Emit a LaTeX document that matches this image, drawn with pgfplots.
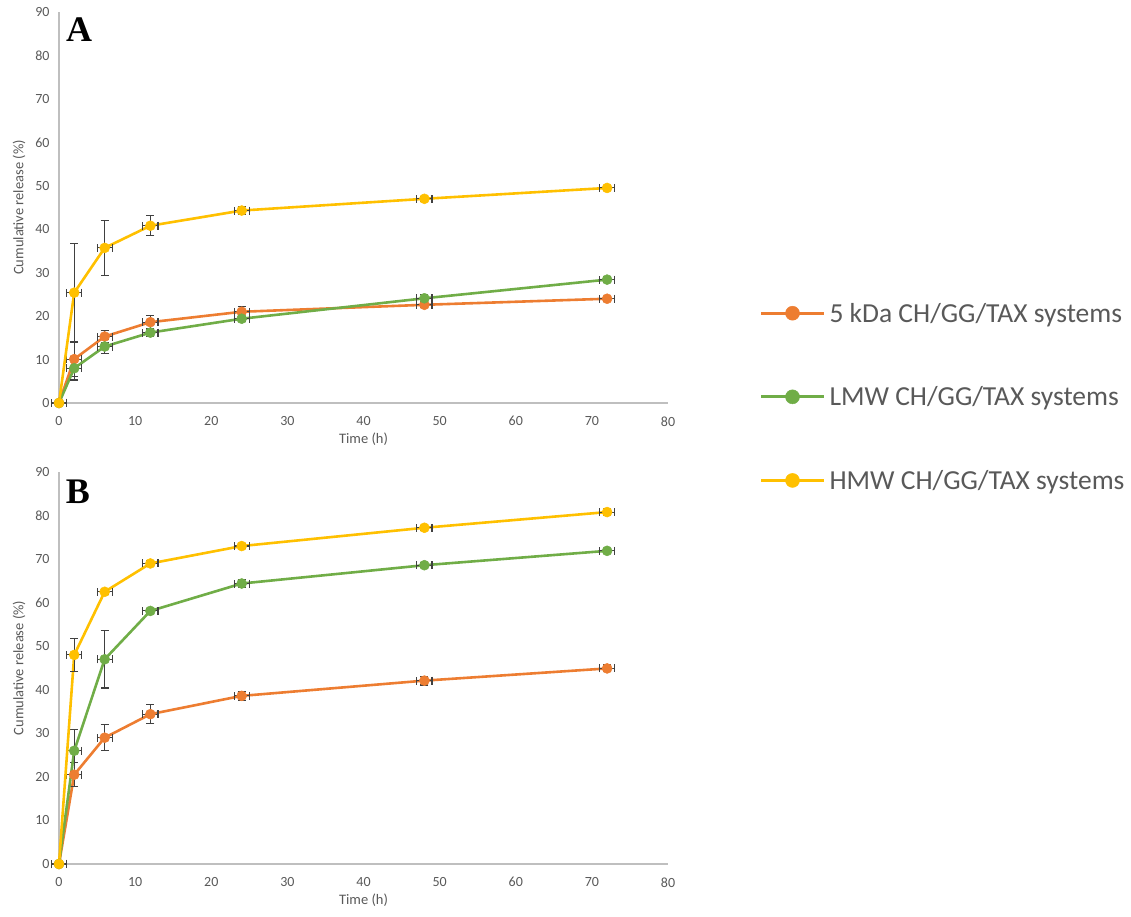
\documentclass[border=0pt]{standalone}
\usepackage{pgfplots}
\usepackage{pgfplotstable}
\pgfplotsset{compat=1.18}
\usepackage{fontspec}
\setmainfont{Carlito}
\newfontfamily\panelfont{Liberation Serif}
\definecolor{cOr}{HTML}{ED7D31}
\definecolor{cGr}{HTML}{70AD47}
\definecolor{cYe}{HTML}{FFC000}
\definecolor{txt}{HTML}{595959}
\definecolor{axl}{HTML}{BFBFBF}
\definecolor{err}{HTML}{404040}

% Panel A
\pgfplotstableread{
x y ex ey
0 0 1 0
2 10.1 1 4.0
6 15.3 1 1.3
12 18.6 1 1.5
24 21.0 1 1.2
48 22.6 1 0.6
72 24.0 1 0.6
}\Aor
\pgfplotstableread{
x y ex ey
0 0 1 0
2 8.0 1 2.7
6 13.0 1 1.6
12 16.2 1 0.8
24 19.4 1 0.6
48 24.1 1 0.8
72 28.4 1 0.6
}\Agr
\pgfplotstableread{
x y ex ey
0 0 1 0
2 25.4 1 11.4
6 35.7 1 6.4
12 40.8 1 2.3
24 44.3 1 0.9
48 47.0 1 0.5
72 49.5 1 0.5
}\Aye
% Panel B
\pgfplotstableread{
x y ex ey
0 0 1 0
2 20.5 1 2.8
6 29.0 1 3.0
12 34.4 1 2.2
24 38.6 1 1.0
48 42.1 1 1.0
72 44.9 1 0.8
}\Bor
\pgfplotstableread{
x y ex ey
0 0 1 0
2 26.0 1 4.8
6 47.0 1 6.6
12 58.1 1 0.6
24 64.4 1 1.0
48 68.6 1 0.6
72 71.9 1 0.6
}\Bgr
\pgfplotstableread{
x y ex ey
0 0 1 0
2 48.0 1 3.8
6 62.5 1 0.6
12 69.0 1 0.6
24 73.0 1 0.6
48 77.2 1 0.6
72 80.8 1 0.8
}\Bye

\pgfplotsset{
  panel/.style={
    scale only axis, width=609pt,
    xmin=0, xmax=80, ymin=0, ymax=90,
    xtick={0,10,...,80}, ytick={0,10,...,90},
    axis lines*=left,
    axis line style={draw=axl, line width=1.2pt},
    major tick length=0pt,
    /pgf/number format/assume math mode=true,
    tick label style={font=\fontsize{14}{16}\selectfont, text=txt},
    xticklabel style={yshift=-10pt},
    yticklabel style={xshift=-6pt},
    label style={font=\fontsize{14.5}{17}\selectfont, text=txt},
    xlabel={Time (h)},
    ylabel={Cumulative release (\%)},
    ylabel style={yshift=3pt},
    clip=false,
  },
  ser/.style={
    color=#1, line width=2.6pt, mark=*, mark size=5pt,
    mark options={fill=#1, draw=#1, line width=0.5pt},
    error bars/.cd, x dir=both, y dir=both, x explicit, y explicit,
    error bar style={err, line width=1.1pt},
    error mark options={err, line width=1.1pt, mark size=4pt, rotate=90},
  },
}

\begin{document}
\begin{tikzpicture}
\path[use as bounding box] (0,0) rectangle (1131pt,917pt);

\begin{axis}[panel, height=391pt, at={(59pt,514pt)}, anchor=south west,
  legend style={draw=none, fill=none, at={(1.145,0.015)}, anchor=west,
    font=\fontsize{27.5}{30}\selectfont, text=txt, row sep=55pt,
    nodes={inner sep=4pt}},
  legend cell align=left,
  legend image code/.code={
    \draw[#1, mark=none, line width=3pt] (0pt,0.3pt) -- (63pt,0.3pt);
    \draw[#1, only marks, mark size=7pt] plot coordinates {(31.5pt,0.3pt)};
  }]
\addplot[ser=cOr] table[x=x, y=y, x error=ex, y error=ey]{\Aor};
\addlegendentry{5 kDa CH/GG/TAX systems}
\addplot[ser=cGr] table[x=x, y=y, x error=ex, y error=ey]{\Agr};
\addlegendentry{LMW CH/GG/TAX systems}
\addplot[ser=cYe] table[x=x, y=y, x error=ex, y error=ey]{\Aye};
\addlegendentry{HMW CH/GG/TAX systems}
\end{axis}

\begin{axis}[panel, height=392pt, at={(59pt,53pt)}, anchor=south west]
\addplot[ser=cOr] table[x=x, y=y, x error=ex, y error=ey]{\Bor};
\addplot[ser=cGr] table[x=x, y=y, x error=ex, y error=ey]{\Bgr};
\addplot[ser=cYe] table[x=x, y=y, x error=ex, y error=ey]{\Bye};
\end{axis}

\node[font=\panelfont\bfseries\fontsize{36}{40}\selectfont] at (79pt,887pt) {A};
\node[font=\panelfont\bfseries\fontsize{36}{40}\selectfont] at (78pt,425pt) {B};
\end{tikzpicture}
\end{document}
